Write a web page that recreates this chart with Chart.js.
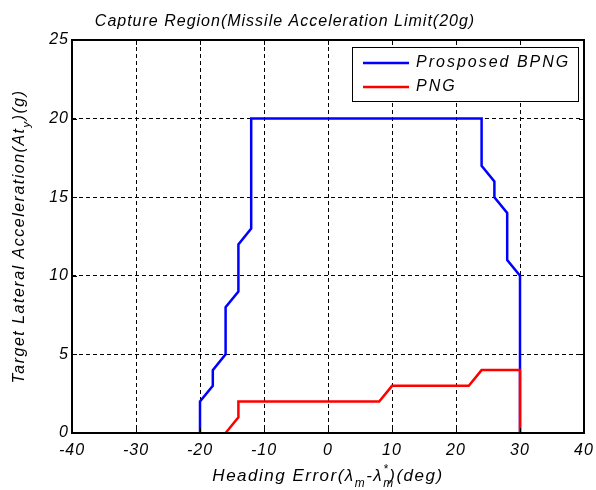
<!DOCTYPE html>
<html>
<head>
<meta charset="utf-8">
<script src="https://cdn.jsdelivr.net/npm/chart.js@4"></script>
<style>
  body { margin: 0; background: #fff; }
</style>
</head>
<body>
<canvas id="captureChart" width="596" height="490"></canvas>
<script>
// tick values
const xTicks = [-40, -30, -20, -10, 0, 10, 20, 30, 40];
const yTicks = [0, 5, 10, 15, 20, 25];

// Prosposed BPNG boundary
const bpngX = [-20, -20, -18, -18, -16, -16, -14, -14, -12, -12, 24, 24, 26, 26, 28, 28, 30, 30];
const bpngY = [0, 2, 3, 4, 5, 8, 9, 12, 13, 20, 20, 17, 16, 15, 14, 11, 10, 0];

// PNG boundary
const pngX = [-16, -14, -14, 8, 10, 22, 24, 30, 30];
const pngY = [0, 1, 2, 2, 3, 3, 4, 4, 0];

const seriesLabels = ['Prosposed BPNG', 'PNG'];
const seriesColors = ['#0000ff', '#ff0000'];

const titleText = 'Capture Region(Missile Acceleration Limit(20g)';
const FONT = '"Liberation Sans", Arial, sans-serif';

function toPoints(xs, ys) {
    return xs.map((x, i) => ({ x: x, y: ys[i] }));
}

// texte avec indices (sub/sup) dessiné morceau par morceau
function measureRich(ctx, parts, size) {
    let w = 0;
    const measure = [];
    parts.forEach(p => {
        const s = p.sub || p.sup ? size * 0.7 : size;
        ctx.font = 'italic ' + s + 'px ' + FONT;
        const pw = ctx.measureText(p.t).width;
        measure.push({ s: s, w: pw });
        if (!p.stack) w += pw;
    });
    return { w: w, measure: measure };
}

function renderRich(ctx, parts, size, cx, cy) {
    const m = measureRich(ctx, parts, size);
    let x = cx - m.w / 2;
    let lastX = x;
    parts.forEach((p, i) => {
        const mm = m.measure[i];
        ctx.font = 'italic ' + mm.s + 'px ' + FONT;
        let dy = 0;
        if (p.sub) dy = size * 0.35;
        if (p.sup) dy = -size * 0.45;
        const px = p.stack ? lastX : x;
        ctx.fillText(p.t, px, cy + dy);
        if (!p.stack) { lastX = x; x += mm.w; }
    });
}

const framePlugin = {
    id: 'frame',
    beforeUpdate(chart) {
        chart.ctx.letterSpacing = '1px';
    },
    beforeDraw(chart) {
        chart.ctx.letterSpacing = '1px';
    },
    afterDraw(chart) {
        const ctx = chart.ctx;
        const a = chart.chartArea;
        const xs = chart.scales.x;
        const ys = chart.scales.y;
        ctx.save();
        ctx.strokeStyle = '#000';
        ctx.lineWidth = 2;
        ctx.strokeRect(a.left, a.top, a.right - a.left, a.bottom - a.top);

        // petits ticks vers l'intérieur, comme matlab
        ctx.lineWidth = 1;
        ctx.beginPath();
        xTicks.forEach(v => {
            const px = Math.round(xs.getPixelForValue(v)) + 0.5;
            ctx.moveTo(px, a.bottom); ctx.lineTo(px, a.bottom - 5);
            ctx.moveTo(px, a.top); ctx.lineTo(px, a.top + 5);
        });
        yTicks.forEach(v => {
            const py = Math.round(ys.getPixelForValue(v)) + 0.5;
            ctx.moveTo(a.left, py); ctx.lineTo(a.left + 5, py);
            ctx.moveTo(a.right, py); ctx.lineTo(a.right - 5, py);
        });
        ctx.stroke();

        // légende
        const lx = 352, ly = 47, lw = 226, lh = 54;
        ctx.fillStyle = '#fff';
        ctx.fillRect(lx, ly, lw, lh);
        ctx.lineWidth = 1;
        ctx.strokeRect(lx + 0.5, ly + 0.5, lw, lh);
        ctx.font = 'italic 16px ' + FONT;
        ctx.letterSpacing = '2px';
        ctx.textBaseline = 'middle';
        ctx.textAlign = 'left';
        seriesLabels.forEach((lab, i) => {
            const yy = ly + 16 + i * 24;
            ctx.strokeStyle = seriesColors[i];
            ctx.lineWidth = 2.5;
            ctx.beginPath();
            ctx.moveTo(lx + 11, yy); ctx.lineTo(lx + 57, yy);
            ctx.stroke();
            ctx.fillStyle = '#000';
            ctx.fillText(lab, lx + 64, yy);
        });

        // titre
        ctx.textAlign = 'left';
        ctx.textBaseline = 'alphabetic';
        ctx.letterSpacing = '1px';
        ctx.font = 'italic 16px ' + FONT;
        const tw = ctx.measureText(titleText).width;
        ctx.fillText(titleText, 285 - tw / 2, 26);

        // titre axe x
        ctx.letterSpacing = '1.5px';
        renderRich(ctx, [
            { t: 'Heading Error(λ' },
            { t: 'm', sub: true },
            { t: '-λ' },
            { t: '*', sup: true },
            { t: 'm', sub: true, stack: true },
            { t: ')(deg)' }
        ], 17, (a.left + a.right) / 2, 481);

        // titre axe y
        ctx.translate(24, (a.top + a.bottom) / 2);
        ctx.rotate(-Math.PI / 2);
        renderRich(ctx, [
            { t: 'Target Lateral Acceleration(At' },
            { t: 'y', sub: true },
            { t: ')(g)' }
        ], 16, 0, 0);
        ctx.restore();
    }
};

const ctx = document.getElementById('captureChart').getContext('2d');

new Chart(ctx, {
    type: 'scatter',
    data: {
        datasets: [{
            label: seriesLabels[0],
            data: toPoints(bpngX, bpngY),
            showLine: true,
            borderColor: seriesColors[0],
            borderWidth: 2.5,
            pointRadius: 0,
            clip: false,
            order: 1
        }, {
            label: seriesLabels[1],
            data: toPoints(pngX, pngY),
            showLine: true,
            borderColor: seriesColors[1],
            borderWidth: 2.5,
            pointRadius: 0,
            clip: false,
            order: 0 // le rouge passe par-dessus le bleu
        }]
    },
    options: {
        responsive: false,
        animation: false,
        layout: { padding: { left: 0, right: 0, top: 40, bottom: 0 } },
        plugins: {
            legend: { display: false },
            tooltip: { enabled: false },
            title: { display: false }
        },
        scales: {
            x: {
                type: 'linear',
                min: -40,
                max: 40,
                afterBuildTicks: s => { s.ticks = xTicks.map(v => ({ value: v })); },
                afterFit: s => {
                    s.height = 57;
                    s.paddingLeft = 0;
                    s.paddingRight = 12;
                },
                ticks: {
                    color: '#000',
                    padding: 8,
                    font: { family: FONT, size: 16, style: 'italic' }
                },
                grid: { color: '#000', lineWidth: 1, drawTicks: false },
                border: { display: false, dash: [4, 3] }
            },
            y: {
                type: 'linear',
                min: 0,
                max: 25,
                afterBuildTicks: s => { s.ticks = yTicks.map(v => ({ value: v })); },
                afterFit: s => {
                    s.width = 72;
                    s.paddingTop = 0;
                    s.paddingBottom = 0;
                },
                ticks: {
                    color: '#000',
                    padding: 3,
                    font: { family: FONT, size: 16, style: 'italic' }
                },
                grid: { color: '#000', lineWidth: 1, drawTicks: false },
                border: { display: false, dash: [4, 3] }
            }
        }
    },
    plugins: [framePlugin]
});
</script>
</body>
</html>
